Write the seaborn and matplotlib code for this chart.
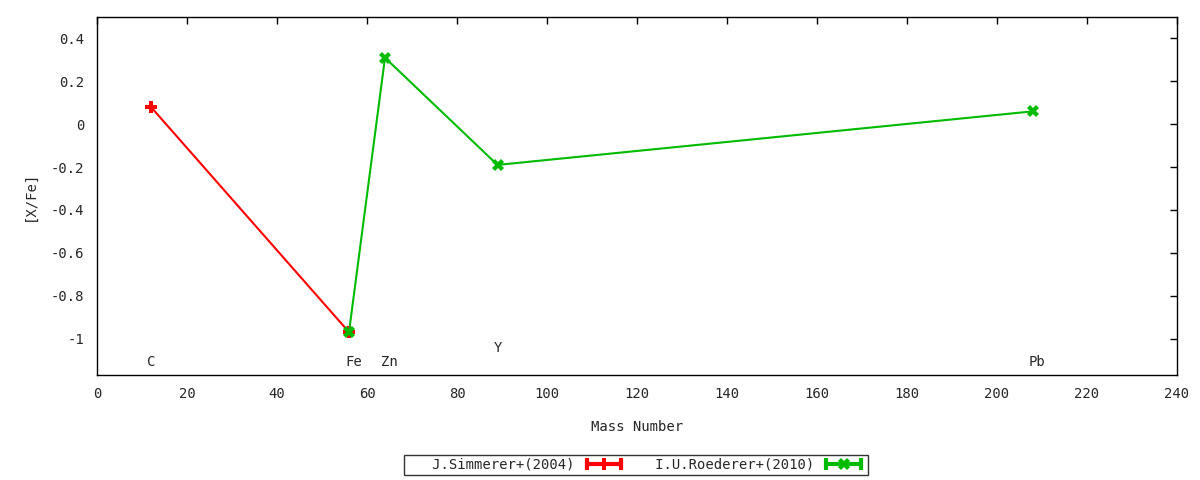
import matplotlib
matplotlib.use("Agg")
import matplotlib.pyplot as plt
import seaborn as sns
import pandas as pd
from matplotlib.lines import Line2D
from matplotlib.legend_handler import HandlerLine2D, HandlerTuple

# Data
simm_mass = [12, 56]
simm_val = [0.08, -0.97]
roed_mass = [56, 64, 89, 208]
roed_val = [-0.97, 0.31, -0.19, 0.06]
elem_names = ["C", "Fe", "Zn", "Y", "Pb"]
elem_mass = [12, 57, 65, 89, 209]
elem_label_y = [-1.11, -1.11, -1.11, -1.045, -1.11]
series_names = ["J.Simmerer+(2004)", "I.U.Roederer+(2010)"]
xticks = list(range(0, 241, 20))
yticks = [-1, -0.8, -0.6, -0.4, -0.2, 0, 0.2, 0.4]

sns.set_style("white")
plt.rcParams["font.family"] = ["DejaVu Sans Mono"]
plt.rcParams["axes.unicode_minus"] = False

fig = plt.figure(figsize=(12, 4.8), dpi=100)
ax = fig.add_axes([97/1200, 105/480, 1080/1200, 358/480])

df1 = pd.DataFrame({"x": simm_mass, "y": simm_val})
df2 = pd.DataFrame({"x": roed_mass, "y": roed_val})
red = "#ff0000"
green = "#00bb00"
sns.lineplot(data=df1, x="x", y="y", ax=ax, color=red, lw=1.5, marker="P",
             markersize=8, markeredgewidth=0, sort=False)
sns.lineplot(data=df2, x="x", y="y", ax=ax, color=green, lw=1.5, marker="X",
             markersize=8, markeredgewidth=0, sort=False)

for n, m, yy in zip(elem_names, elem_mass, elem_label_y):
    ax.text(m, yy, n, ha="center", va="center", fontsize=10)

ax.set_xlim(0, 240)
ax.set_ylim(-1.17, 0.5)
ax.set_xticks(xticks)
ax.set_xticklabels([str(t) for t in xticks])
ax.set_yticks(yticks)
ax.set_yticklabels(["-1", "-0.8", "-0.6", "-0.4", "-0.2", "0", "0.2", "0.4"])
ax.tick_params(direction="in", length=5, width=1, top=True, right=True,
               labelsize=10, pad=9, color="black")
for s in ax.spines.values():
    s.set_color("black")
    s.set_linewidth(1)
ax.set_xlabel("Mass Number", fontsize=10, labelpad=13)
ax.set_ylabel("[X/Fe]", fontsize=10, labelpad=10)

# Legend handles (gnuplot-like with caps)
handles = []
hmap = {}
for col, mk in [(red, "P"), (green, "X")]:
    caps = Line2D([], [], color=col, lw=3, marker="|", markersize=9, markeredgewidth=3)
    mid = Line2D([], [], color=col, lw=0, marker=mk, markersize=8, markeredgewidth=0)
    hmap[caps] = HandlerLine2D(numpoints=2)
    hmap[mid] = HandlerLine2D(numpoints=1)
    handles.append((caps, mid))
hmap[tuple] = HandlerTuple(ndivide=1, pad=0)

leg_labels = ["   " + s for s in series_names]
leg = fig.legend(handles, leg_labels, handler_map=hmap,
                 loc="center", bbox_to_anchor=(636/1200, 1 - 465/480), ncol=2,
                 frameon=True, fancybox=False, edgecolor="black", fontsize=10,
                 markerfirst=False, handlelength=3.1, columnspacing=0.3,
                 borderpad=0.2, handletextpad=0.6, borderaxespad=0)
leg.get_frame().set_linewidth(1)

fig.savefig("out.png", dpi=100)
